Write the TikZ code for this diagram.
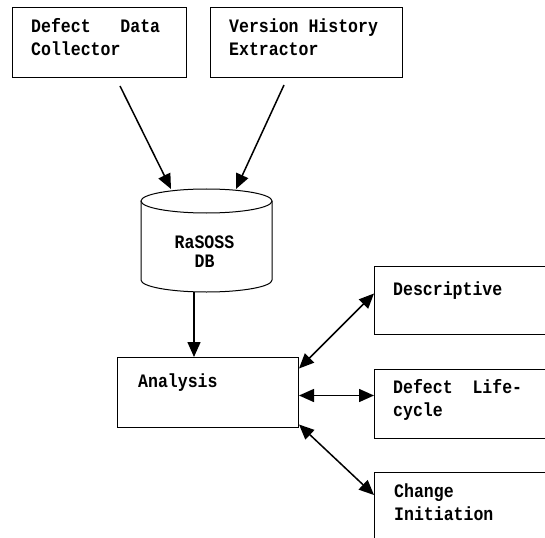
\documentclass[tikz,border=0pt]{standalone}
\usepackage{fontspec}
\newfontfamily\diafont[FakeStretch=0.87]{Liberation Mono}
\usetikzlibrary{arrows.meta}
\begin{document}
\begin{tikzpicture}[x=1bp,y=-1bp,
  box/.style={draw, line width=1bp, rectangle, inner sep=0pt, anchor=north west},
  txt/.style={font={\diafont\bfseries\fontsize{19bp}{23bp}\selectfont}, inner sep=0pt, align=left, anchor=base west},
  conn/.style={line width=1.5bp},
  >={Triangle[length=15bp,width=13bp]}
]
\useasboundingbox (0,0) rectangle (545,538);
\clip (0,0) rectangle (545,538);
% boxes
\node[box, minimum width=174bp, minimum height=70bp] (b1) at (12,7) {};
\node[box, minimum width=192bp, minimum height=70bp] (b2) at (210,7) {};
\node[box, minimum width=181bp, minimum height=70bp] (ana) at (117,357) {};
\node[box, minimum width=200bp, minimum height=68bp] (desc) at (374,266) {};
\node[box, minimum width=200bp, minimum height=69bp] (dlc) at (374,369) {};
\node[box, minimum width=200bp, minimum height=100bp] (chg) at (374,472) {};
% texts (anchor = baseline of last line)
\node[txt] (t1) at (31,56) {Defect~~~Data\\Collector};
\node[txt] (t2) at (229,56) {Version History\\Extractor};
\node[txt] (ta) at (138,387) {Analysis};
\node[txt] (td) at (393,295) {Descriptive};
\node[txt] (tl) at (393,416) {Defect~~Life-\\cycle};
\node[txt] (tc) at (394,520) {Change\\Initiation};
% database cylinder
\draw[line width=1bp] (141,201) -- (141,280) arc[start angle=180, end angle=360, x radius=65.5bp, y radius=12bp] -- (272,201);
\draw[line width=1bp] (206.5,201) ellipse [x radius=65.5bp, y radius=12bp];
\node[txt, align=center, anchor=base] (tdb) at (204.5,267) {RaSOSS\\[-4bp]DB};
% connector ends
\coordinate (s1) at (120,86);
\coordinate (e1) at (171,189);
\coordinate (s2) at (284,85);
\coordinate (e2) at (236,189);
\coordinate (dbb) at (194,292);
\coordinate (m) at ([yshift=-3bp]ana.east);
% connectors
\draw[conn,->] (s1) -- (e1);
\draw[conn,->] (s2) -- (e2);
\draw[conn,->] (dbb) -- (dbb |- ana.north);
\draw[conn,<->] ([yshift=24bp]ana.east) -- ([yshift=7bp]desc.west);
\draw[conn,<->] (m) -- (m -| dlc.west);
\draw[conn,<->] ([yshift=-32bp]ana.east) -- ([yshift=-23bp]chg.north west);
\end{tikzpicture}
\end{document}
